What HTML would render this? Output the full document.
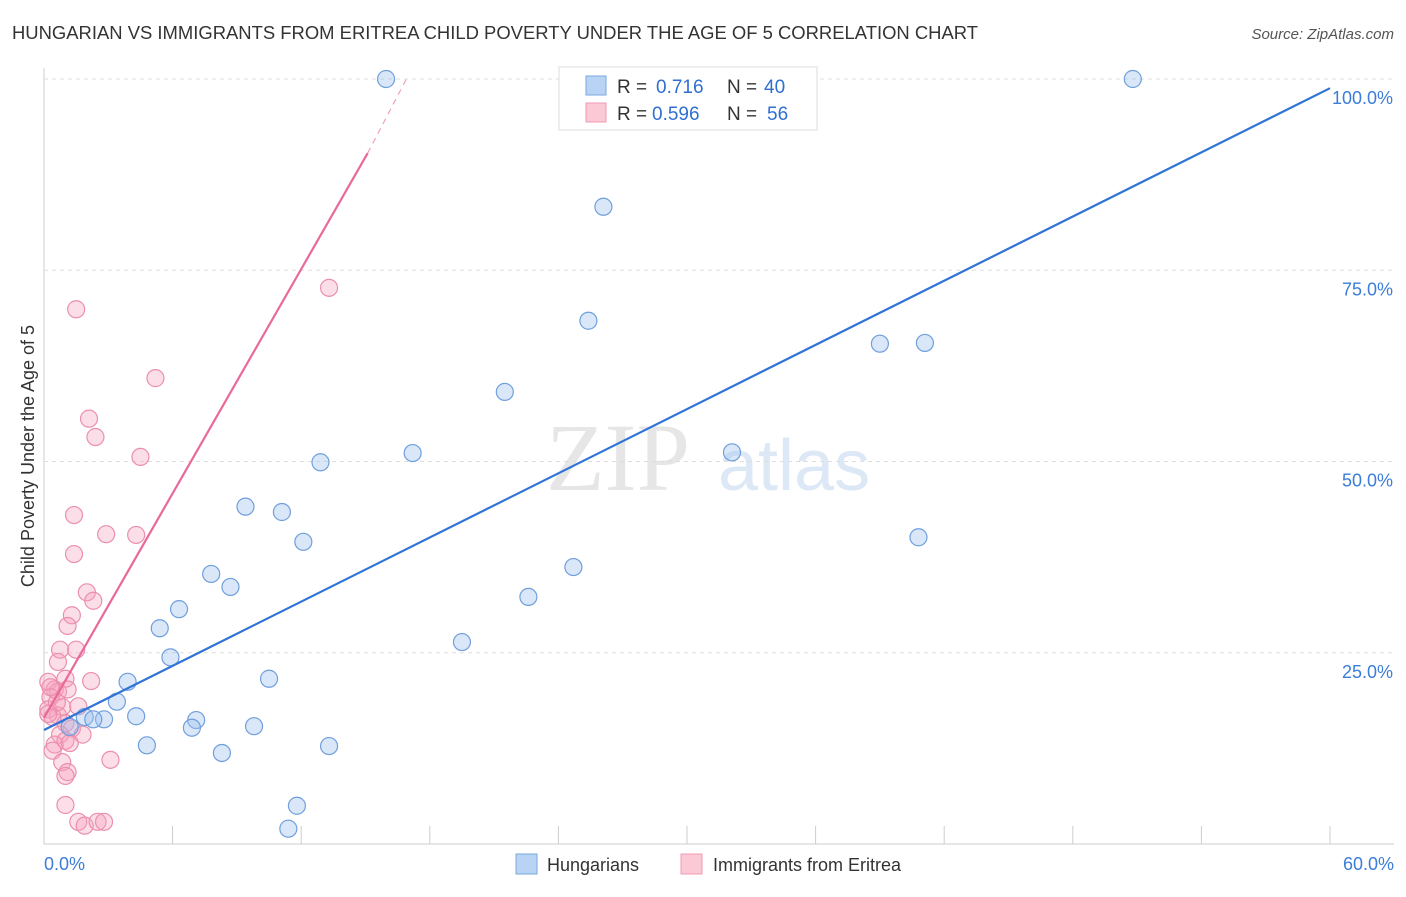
<!DOCTYPE html>
<html><head><meta charset="utf-8"><style>
body{margin:0;background:#fff;font-family:"Liberation Sans",sans-serif}
</style></head><body>
<svg id="c" width="1406" height="892" xmlns="http://www.w3.org/2000/svg">
<text x="12" y="39" font-size="18" fill="#333" textLength="966" lengthAdjust="spacingAndGlyphs">HUNGARIAN VS IMMIGRANTS FROM ERITREA CHILD POVERTY UNDER THE AGE OF 5 CORRELATION CHART</text>
<text x="1394" y="39" font-size="15" fill="#555" text-anchor="end" font-style="italic">Source: ZipAtlas.com</text>
<text x="690" y="490" font-size="96" fill="#e6e6e6" text-anchor="end" font-family="Liberation Serif">ZIP</text>
<text x="718" y="490" font-size="72" fill="#dde8f6">atlas</text>
<text transform="translate(34,456) rotate(-90)" font-size="18" fill="#333" text-anchor="middle">Child Poverty Under the Age of 5</text>
<g id="grid"></g><g id="pts"></g><g id="lines"></g>
<g>
<rect x="559" y="67" width="258" height="63" fill="#fff" stroke="#ddd"/>
<rect x="586" y="76" width="20" height="19" fill="#b9d3f5" stroke="#7aa7e0"/>
<rect x="586" y="103" width="20" height="19" fill="#fbc8d6" stroke="#f09ab4"/>
<text x="617" y="93" font-size="19" fill="#333">R =</text>
<text x="656" y="93" font-size="19" fill="#2f6fd1">0.716</text>
<text x="727" y="93" font-size="19" fill="#333">N =</text>
<text x="764" y="93" font-size="19" fill="#2f6fd1">40</text>
<text x="617" y="120" font-size="19" fill="#333">R =</text>
<text x="652" y="120" font-size="19" fill="#2f6fd1">0.596</text>
<text x="727" y="120" font-size="19" fill="#333">N =</text>
<text x="767" y="120" font-size="19" fill="#2f6fd1">56</text>
</g>
<g>
<rect x="516" y="854" width="21" height="20" fill="#b9d3f5" stroke="#7aa7e0"/>
<text x="547" y="871" font-size="18" fill="#333">Hungarians</text>
<rect x="681" y="854" width="21" height="20" fill="#fbc8d6" stroke="#f09ab4"/>
<text x="713" y="871" font-size="18" fill="#333">Immigrants from Eritrea</text>
</g>
</svg>
<script>
const xTicks=[0,6,12,18,24,30,36,42,48,54,60];
const yTicks=[25,50,75,100];
const blueX=[15.96,50.8,26.1,25.4,39.0,41.1,21.5,12.9,17.2,32.1,9.4,11.1,12.1,40.8,7.8,24.7,8.7,22.6,6.3,5.4,19.5,5.9,3.9,10.5,3.4,4.3,1.9,2.8,2.3,7.1,6.9,9.8,1.2,4.8,13.3,8.3,11.8,11.4];
const blueY=[100,100,83.3,68.4,65.4,65.5,59.1,49.9,51.1,51.2,44.1,43.4,39.5,40.1,35.3,36.2,33.6,32.3,30.7,28.2,26.4,24.4,21.2,21.6,18.6,16.7,16.6,16.3,16.3,16.2,15.2,15.4,15.3,12.9,12.8,11.9,5.0,2.0];
const pinkX=[13.3,1.5,5.2,2.1,2.4,4.5,1.4,2.9,4.3,1.4,2.0,2.3,1.3,1.1,0.75,1.5,0.65,1.0,2.2,0.2,0.5,0.65,1.1,0.3,0.2,0.65,0.85,0.4,1.0,1.3,0.75,1.0,0.5,0.4,1.8,1.2,3.1,0.85,1.1,1.0,1.0,1.6,1.9,2.5,2.8,0.3,0.6,1.6,0.2];
const pinkY=[72.7,69.9,60.9,55.6,53.2,50.6,43.0,40.5,40.4,37.9,32.9,31.8,29.9,28.5,25.4,25.4,23.8,21.6,21.3,21.2,20.2,19.9,20.2,19.2,17.6,16.8,17.9,16.6,15.8,15.1,14.3,13.5,13.0,12.2,14.3,13.2,11.0,10.7,9.4,8.9,5.1,2.9,2.4,2.9,2.9,20.5,18.5,18.0,17.0];
const blueLine=[[0,14.9],[60,98.8]];
const pinkLine=[[0,16.5],[15.1,90.3],[17.0,100.5]];
const sx=v=>44+v*(1286/60), sy=v=>844-v*7.65;
const NS='http://www.w3.org/2000/svg';
function mk(t,a,p){const e=document.createElementNS(NS,t);for(const k in a)e.setAttribute(k,a[k]);p.appendChild(e);return e;}
const g=document.getElementById('grid');
let ax=mk('line',{x1:44,y1:68,x2:44,y2:844,stroke:'#ccc'},g);


let bx=mk('line',{x1:44,y1:844,x2:1394,y2:844,stroke:'#ccc'},g);


yTicks.forEach(v=>{const l=mk('line',{x1:44,x2:1394,y1:sy(v),y2:sy(v),stroke:'#ddd','stroke-dasharray':'4,4'},g);


const t=mk('text',{x:1393,y:sy(v)+25,'font-size':18,fill:'#3b7dd8','text-anchor':'end'},g);t.textContent=v.toFixed(1)+'%';

});
xTicks.forEach(v=>{const l=mk('line',{x1:sx(v),x2:sx(v),y1:826,y2:844,stroke:'#ccc'},g);

});
[[0,'start',44],[60,'end',1394]].forEach(([v,a,x])=>{const t=mk('text',{x:x,y:870,'font-size':18,fill:'#3b7dd8','text-anchor':a},g);t.textContent=v.toFixed(1)+'%';

});
const p=document.getElementById('pts');
pinkX.forEach((v,i)=>{const c=mk('circle',{cx:sx(v),cy:sy(pinkY[i]),r:8.5,fill:'rgba(246,160,188,0.35)',stroke:'#eb8fad','stroke-width':1.2},p);

});
blueX.forEach((v,i)=>{const c=mk('circle',{cx:sx(v),cy:sy(blueY[i]),r:8.5,fill:'rgba(160,196,240,0.4)',stroke:'#6f9fdc','stroke-width':1.2},p);

});
const L=document.getElementById('lines');
let b=mk('line',{x1:sx(blueLine[0][0]),y1:sy(blueLine[0][1]),x2:sx(blueLine[1][0]),y2:sy(blueLine[1][1]),stroke:'#2f74d6','stroke-width':2.2},L);


let pk=mk('line',{x1:sx(pinkLine[0][0]),y1:sy(pinkLine[0][1]),x2:sx(pinkLine[1][0]),y2:sy(pinkLine[1][1]),stroke:'#e8699a','stroke-width':2.2},L);


let pd=mk('line',{x1:sx(pinkLine[1][0]),y1:sy(pinkLine[1][1]),x2:sx(pinkLine[2][0]),y2:sy(pinkLine[2][1]),stroke:'#f0a0bc','stroke-width':1.2,'stroke-dasharray':'6,5'},L);


</script>
</body></html>
